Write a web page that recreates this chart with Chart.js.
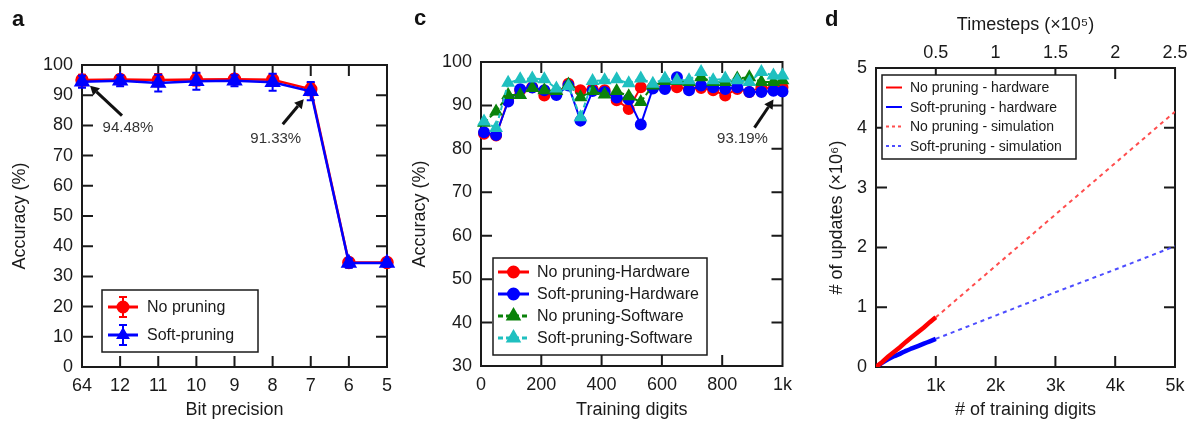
<!DOCTYPE html>
<html>
<head>
<meta charset="utf-8">
<script src="https://cdn.jsdelivr.net/npm/chart.js@4.4.1/dist/chart.umd.min.js"></script>
<style>
  html, body { margin: 0; padding: 0; background: #fff; }
  #wrap { position: relative; width: 1194px; height: 427px; }
  .panel { position: absolute; top: 0; height: 427px; }
</style>
</head>
<body>
<div id="wrap">
  <div class="panel" style="left:0;width:400px"><canvas id="panelA"></canvas></div>
  <div class="panel" style="left:400px;width:400px"><canvas id="panelC"></canvas></div>
  <div class="panel" style="left:800px;width:394px"><canvas id="panelD"></canvas></div>
</div>
<script>
// ---- panel a: accuracy vs bit precision ----
const bitPrecision = ['64', '12', '11', '10', '9', '8', '7', '6', '5'];
const accNoPruning = [95.0, 95.2, 95.0, 95.2, 95.3, 95.1, 92.0, 34.6, 34.6];
const errNoPruning = [1.8, 1.5, 2.0, 2.0, 1.5, 1.8, 2.0, 1.2, 1.0];
const accSoftPruning = [94.48, 94.8, 94.0, 94.6, 94.8, 94.3, 91.33, 34.4, 34.4];
const errSoftPruning = [2.0, 1.8, 2.8, 2.8, 1.8, 2.8, 3.0, 1.5, 1.2];

// ---- panel c: accuracy vs training digits ----
const trainingDigits = [10, 50, 90, 130, 170, 210, 250, 290, 330, 370, 410, 450, 490,
                        530, 570, 610, 650, 690, 730, 770, 810, 850, 890, 930, 970, 1000];
const accNoPruningHw = [83.5, 83.1, 91.2, 93.5, 94.2, 92.3, 92.7, 95.0, 93.5, 93.8, 93.5, 91.2, 89.2,
                        94.2, 94.2, 94.0, 94.2, 93.8, 94.0, 93.5, 92.3, 93.8, 93.1, 94.2, 93.8, 94.2];
const accSoftPruningHw = [83.8, 83.2, 90.9, 93.7, 94.1, 93.5, 92.4, 94.6, 86.5, 93.3, 93.1, 91.8, 91.4,
                          85.6, 93.9, 93.8, 96.5, 93.5, 94.6, 94.2, 93.8, 94.2, 93.1, 93.1, 93.4, 93.19];
const accNoPruningSw = [86.0, 88.6, 92.4, 92.4, 94.0, 93.5, 93.3, 94.8, 91.9, 93.3, 92.5, 93.3, 92.1,
                        90.8, 94.6, 95.6, 95.6, 95.4, 96.5, 95.4, 95.4, 96.2, 96.5, 95.4, 95.4, 95.8];
const accSoftPruningSw = [86.3, 84.8, 95.2, 96.0, 96.2, 96.0, 93.9, 94.4, 87.3, 95.6, 95.8, 96.0, 95.1,
                          96.2, 95.0, 96.2, 95.8, 95.8, 97.7, 95.8, 96.2, 95.8, 95.4, 97.7, 96.9, 96.9];
const digitTickLabels = ['0', '200', '400', '600', '800', '1k'];

// ---- panel d: number of updates ----
const hwDigits = [0, 100, 200, 300, 400, 500, 600, 700, 800, 900, 1000];
const hwUpdatesNoPruning = [0, 0.08, 0.17, 0.25, 0.33, 0.42, 0.50, 0.58, 0.66, 0.75, 0.83];
const hwUpdatesSoftPruning = [0, 0.07, 0.13, 0.18, 0.22, 0.27, 0.31, 0.35, 0.39, 0.43, 0.47];
const simDigits = [1000, 2000, 3000, 4000, 5000];
const simUpdatesNoPruning = [0.83, 1.69, 2.55, 3.41, 4.27];
const simUpdatesSoftPruning = [0.47, 0.86, 1.25, 1.63, 2.02];
const updateDigitLabels = ['', '1k', '2k', '3k', '4k', '5k'];
const timestepLabels = ['', '0.5', '1', '1.5', '2', '2.5'];

const ink = '#1a1a1a';
const red = '#ff0000';
const blue = '#0000ff';
const green = '#0a820a';
const cyan = '#1fc0c0';
const fontFamily = "'Liberation Sans', Arial, Helvetica, sans-serif";

Chart.defaults.font.family = fontFamily;
Chart.defaults.font.size = 18;
Chart.defaults.color = ink;

const xy = (xs, ys) => xs.map((x, i) => ({ x, y: ys[i] }));

// box around the plot area with inward tick marks
const framePlugin = {
  id: 'frame',
  beforeDatasetsDraw(chart, args, opts) {
    const { ctx, chartArea: a } = chart;
    const len = opts.tickLength || 10;
    ctx.save();
    ctx.strokeStyle = ink;
    ctx.lineWidth = 2;
    ctx.strokeRect(a.left, a.top, a.right - a.left, a.bottom - a.top);
    ctx.beginPath();
    Object.entries(opts.sides || {}).forEach(([id, sides]) => {
      const scale = chart.scales[id];
      scale.ticks.forEach((t, i) => {
        const p = scale.getPixelForTick(i);
        if (scale.isHorizontal()) {
          if (p < a.left + 2 || p > a.right - 2) return;
          if (sides.includes('bottom')) { ctx.moveTo(p, a.bottom); ctx.lineTo(p, a.bottom - len); }
          if (sides.includes('top')) { ctx.moveTo(p, a.top); ctx.lineTo(p, a.top + len); }
        } else {
          if (p < a.top + 2 || p > a.bottom - 2) return;
          if (sides.includes('left')) { ctx.moveTo(a.left, p); ctx.lineTo(a.left + len, p); }
          if (sides.includes('right')) { ctx.moveTo(a.right, p); ctx.lineTo(a.right - len, p); }
        }
      });
    });
    ctx.stroke();
    ctx.restore();
  }
};

// vertical error bars, drawn under each dataset's own markers
const errorBarPlugin = {
  id: 'errorBars',
  beforeDatasetDraw(chart, args) {
    const ds = chart.data.datasets[args.index];
    if (!ds.errors) return;
    const y = chart.scales.y;
    const ctx = chart.ctx;
    ctx.save();
    ctx.strokeStyle = ds.borderColor;
    ctx.lineWidth = 2;
    ctx.beginPath();
    args.meta.data.forEach((pt, i) => {
      const hi = y.getPixelForValue(ds.data[i] + ds.errors[i]);
      const lo = y.getPixelForValue(ds.data[i] - ds.errors[i]);
      ctx.moveTo(pt.x, hi); ctx.lineTo(pt.x, lo);
      ctx.moveTo(pt.x - 4, hi); ctx.lineTo(pt.x + 4, hi);
      ctx.moveTo(pt.x - 4, lo); ctx.lineTo(pt.x + 4, lo);
    });
    ctx.stroke();
    ctx.restore();
  }
};

// arrow + value label pointing at one data point
const calloutPlugin = {
  id: 'callouts',
  afterDatasetsDraw(chart, args, opts) {
    const ctx = chart.ctx;
    (opts.items || []).forEach(c => {
      const pt = chart.getDatasetMeta(c.dataset).data[c.index];
      const raw = chart.data.datasets[c.dataset].data[c.index];
      const value = typeof raw === 'object' ? raw.y : raw;
      const hx = pt.x + c.head[0], hy = pt.y + c.head[1];
      const tx = pt.x + c.tail[0], ty = pt.y + c.tail[1];
      const ang = Math.atan2(hy - ty, hx - tx);
      const hl = 9, hw = 5;
      const bx = hx - hl * Math.cos(ang), by = hy - hl * Math.sin(ang);
      ctx.save();
      ctx.strokeStyle = '#111';
      ctx.fillStyle = '#111';
      ctx.lineWidth = 3;
      ctx.beginPath();
      ctx.moveTo(tx, ty);
      ctx.lineTo(bx, by);
      ctx.stroke();
      ctx.beginPath();
      ctx.moveTo(hx, hy);
      ctx.lineTo(bx - hw * Math.sin(ang), by + hw * Math.cos(ang));
      ctx.lineTo(bx + hw * Math.sin(ang), by - hw * Math.cos(ang));
      ctx.closePath();
      ctx.fill();
      ctx.font = '15px ' + fontFamily;
      ctx.fillStyle = '#333';
      ctx.textAlign = 'center';
      ctx.textBaseline = 'middle';
      ctx.fillText(value.toFixed(2) + '%', pt.x + c.label[0], pt.y + c.label[1]);
      ctx.restore();
    });
  }
};

// boxed legend inside the plot area
const insetLegendPlugin = {
  id: 'insetLegend',
  afterDraw(chart, args, o) {
    const { ctx, chartArea: a } = chart;
    const x0 = a.left + o.x, y0 = a.top + o.y;
    ctx.save();
    ctx.fillStyle = '#fff';
    ctx.fillRect(x0, y0, o.w, o.h);
    ctx.strokeStyle = ink;
    ctx.lineWidth = 1.5;
    ctx.strokeRect(x0, y0, o.w, o.h);
    ctx.font = o.fontSize + 'px ' + fontFamily;
    ctx.textBaseline = 'middle';
    chart.data.datasets.forEach((ds, i) => {
      const cy = y0 + o.firstRow + i * o.rowH;
      const l0 = x0 + o.lineFrom, l1 = x0 + o.lineTo, mx = (l0 + l1) / 2;
      ctx.strokeStyle = ds.borderColor;
      ctx.fillStyle = ds.borderColor;
      ctx.lineWidth = o.lineWidth;
      ctx.setLineDash(ds.borderDash ? o.dash : []);
      ctx.beginPath();
      ctx.moveTo(l0, cy);
      ctx.lineTo(l1, cy);
      ctx.stroke();
      ctx.setLineDash([]);
      if (ds.errors) {
        ctx.lineWidth = 2;
        ctx.beginPath();
        ctx.moveTo(mx, cy - 10); ctx.lineTo(mx, cy + 10);
        ctx.moveTo(mx - 4, cy - 10); ctx.lineTo(mx + 4, cy - 10);
        ctx.moveTo(mx - 4, cy + 10); ctx.lineTo(mx + 4, cy + 10);
        ctx.stroke();
      }
      if (ds.pointRadius > 0) {
        const r = o.markerRadius ? Math.min(o.markerRadius, ds.pointRadius) : ds.pointRadius;
        Chart.helpers.drawPoint(ctx, { pointStyle: ds.pointStyle, radius: r, rotation: 0, borderWidth: 1 }, mx, cy);
      }
      ctx.fillStyle = ink;
      ctx.fillText(ds.label, x0 + o.textX, cy + 1);
    });
    ctx.restore();
  }
};

// bold panel letter in the corner
const letterPlugin = {
  id: 'panelLetter',
  afterDraw(chart, args, o) {
    const ctx = chart.ctx;
    ctx.save();
    ctx.font = 'bold 22px ' + fontFamily;
    ctx.fillStyle = '#111';
    ctx.textBaseline = 'alphabetic';
    ctx.fillText(o.text, o.x, o.y);
    ctx.restore();
  }
};

const plainGrid = { display: false, drawTicks: false };
const noBorder = { display: false };
const axisTitle = (text, padding) => ({ display: true, text, color: ink, font: { size: 18 }, padding });
const baseOptions = {
  responsive: true,
  maintainAspectRatio: false,
  animation: false,
  events: []
};
const allPlugins = [framePlugin, errorBarPlugin, calloutPlugin, insetLegendPlugin, letterPlugin];

// panel a
new Chart(document.getElementById('panelA'), {
  type: 'line',
  data: {
    labels: bitPrecision,
    datasets: [
      { label: 'No pruning', data: accNoPruning, errors: errNoPruning, borderColor: red, backgroundColor: red,
        pointStyle: 'circle', pointRadius: 5.5, borderWidth: 2.5, order: 2, clip: false },
      { label: 'Soft-pruning', data: accSoftPruning, errors: errSoftPruning, borderColor: blue, backgroundColor: blue,
        pointStyle: 'triangle', pointRadius: 7, borderWidth: 2.5, order: 1, clip: false }
    ]
  },
  options: {
    ...baseOptions,
    layout: { padding: { top: 65, right: 13, left: 0, bottom: 0 } },
    plugins: {
      legend: { display: false },
      tooltip: { enabled: false },
      frame: { tickLength: 11, sides: { x: ['bottom', 'top'], y: ['left', 'right'] } },
      callouts: { items: [
        { dataset: 1, index: 0, head: [8, 4], tail: [40, 34], label: [46, 46] },
        { dataset: 1, index: 6, head: [-7, 8], tail: [-28, 33], label: [-35, 48] }
      ] },
      insetLegend: { x: 20, y: 225, w: 156, h: 62, firstRow: 17, rowH: 28, lineFrom: 6, lineTo: 36,
                     textX: 45, fontSize: 16, lineWidth: 3, dash: [5, 3], markerRadius: 6 },
      panelLetter: { text: 'a', x: 12, y: 26 }
    },
    scales: {
      x: {
        offset: false,
        grid: plainGrid, border: noBorder,
        ticks: { padding: 8 },
        title: axisTitle('Bit precision', { bottom: 6 }),
        afterFit: s => { s.height = 60; }
      },
      y: {
        min: 0, max: 100,
        grid: plainGrid, border: noBorder,
        ticks: { stepSize: 10, padding: 9 },
        title: axisTitle('Accuracy (%)', { top: 9 }),
        afterFit: s => { s.width = 82; }
      }
    }
  },
  plugins: allPlugins
});

// panel c
new Chart(document.getElementById('panelC'), {
  type: 'line',
  data: {
    datasets: [
      { label: 'No pruning-Hardware', data: xy(trainingDigits, accNoPruningHw), borderColor: red, backgroundColor: red,
        pointStyle: 'circle', pointRadius: 5, borderWidth: 2, order: 4, clip: false },
      { label: 'Soft-pruning-Hardware', data: xy(trainingDigits, accSoftPruningHw), borderColor: blue, backgroundColor: blue,
        pointStyle: 'circle', pointRadius: 5, borderWidth: 2, order: 3, clip: false },
      { label: 'No pruning-Software', data: xy(trainingDigits, accNoPruningSw), borderColor: green, backgroundColor: green,
        pointStyle: 'triangle', pointRadius: 6, borderWidth: 2, borderDash: [5, 3], order: 2, clip: false },
      { label: 'Soft-pruning-Software', data: xy(trainingDigits, accSoftPruningSw), borderColor: cyan, backgroundColor: cyan,
        pointStyle: 'triangle', pointRadius: 6, borderWidth: 2, borderDash: [5, 3], order: 1, clip: false }
    ]
  },
  options: {
    ...baseOptions,
    layout: { padding: { top: 62, right: 13, left: 0, bottom: 0 } },
    plugins: {
      legend: { display: false },
      tooltip: { enabled: false },
      frame: { tickLength: 11, sides: { x: ['bottom', 'top'], y: ['left', 'right'] } },
      callouts: { items: [
        { dataset: 1, index: 25, head: [-9, 8], tail: [-28, 36], label: [-40, 47] }
      ] },
      insetLegend: { x: 12, y: 196, w: 214, h: 97, firstRow: 14, rowH: 22, lineFrom: 5, lineTo: 36,
                     textX: 44, fontSize: 16, lineWidth: 3, dash: [5, 3] },
      panelLetter: { text: 'c', x: 14, y: 25 }
    },
    scales: {
      x: {
        type: 'linear', min: 0, max: 1000,
        grid: plainGrid, border: noBorder,
        ticks: { stepSize: 200, padding: 8, callback: (v, i) => digitTickLabels[i] },
        title: axisTitle('Training digits', { bottom: 6 }),
        afterFit: s => { s.height = 61; }
      },
      y: {
        min: 30, max: 100,
        grid: plainGrid, border: noBorder,
        ticks: { stepSize: 10, padding: 9 },
        title: axisTitle('Accuracy (%)', { top: 9 }),
        afterFit: s => { s.width = 81; }
      }
    }
  },
  plugins: allPlugins
});

// panel d
new Chart(document.getElementById('panelD'), {
  type: 'line',
  data: {
    datasets: [
      { label: 'No pruning - hardware', data: xy(hwDigits, hwUpdatesNoPruning), borderColor: red,
        pointRadius: 0, borderWidth: 4.5 },
      { label: 'Soft-pruning - hardware', data: xy(hwDigits, hwUpdatesSoftPruning), borderColor: blue,
        pointRadius: 0, borderWidth: 4.5, cubicInterpolationMode: 'monotone' },
      { label: 'No pruning - simulation', data: xy(simDigits, simUpdatesNoPruning), borderColor: '#ff4d4d',
        pointRadius: 0, borderWidth: 2, borderDash: [4, 4] },
      { label: 'Soft-pruning - simulation', data: xy(simDigits, simUpdatesSoftPruning), borderColor: '#4d4dff',
        pointRadius: 0, borderWidth: 2, borderDash: [4, 4] }
    ]
  },
  options: {
    ...baseOptions,
    layout: { padding: { top: 0, right: 19, left: 0, bottom: 0 } },
    plugins: {
      legend: { display: false },
      tooltip: { enabled: false },
      frame: { tickLength: 11, sides: { x: ['bottom'], x2: ['top'], y: ['left', 'right'] } },
      insetLegend: { x: 6, y: 7, w: 194, h: 84, firstRow: 12.5, rowH: 19.5, lineFrom: 4, lineTo: 20,
                     textX: 28, fontSize: 14, lineWidth: 2, dash: [3, 3] },
      panelLetter: { text: 'd', x: 25, y: 26 }
    },
    scales: {
      x: {
        type: 'linear', min: 0, max: 5000,
        grid: plainGrid, border: noBorder,
        ticks: { stepSize: 1000, padding: 8, callback: (v, i) => updateDigitLabels[i] },
        title: axisTitle('# of training digits', { bottom: 6 }),
        afterFit: s => { s.height = 60; }
      },
      x2: {
        type: 'linear', position: 'top', min: 0, max: 2.5,
        grid: plainGrid, border: noBorder,
        ticks: { stepSize: 0.5, padding: 4, callback: (v, i) => timestepLabels[i] },
        title: axisTitle('Timesteps (×10⁵)', { top: 14 }),
        afterFit: s => { s.height = 68; }
      },
      y: {
        min: 0, max: 5,
        grid: plainGrid, border: noBorder,
        ticks: { stepSize: 1, padding: 9 },
        title: axisTitle('# of updates (×10⁶)', { top: 26 }),
        afterFit: s => { s.width = 76; }
      }
    }
  },
  plugins: allPlugins
});
</script>
</body>
</html>
